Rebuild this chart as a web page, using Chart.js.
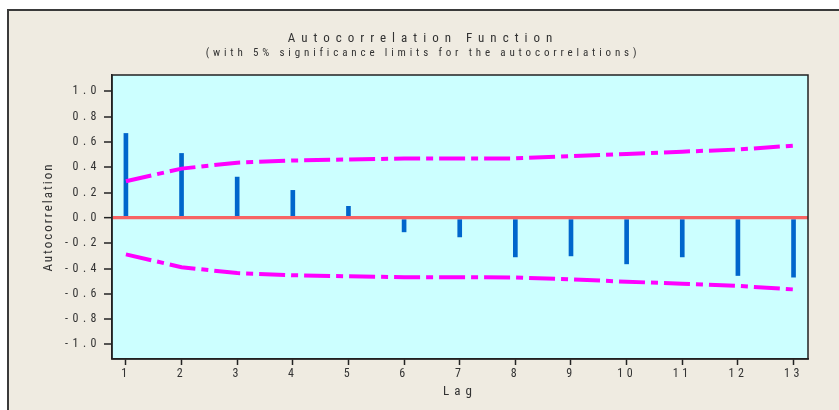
<!DOCTYPE html>
<html><head><meta charset="utf-8">
<script src="https://cdn.jsdelivr.net/npm/chart.js@4"></script>
<style>
html,body{margin:0;padding:0;background:#fff;overflow:hidden;}
#frame{position:absolute;left:7px;top:9px;width:850px;height:420px;box-sizing:border-box;border:2px solid #3a3a3a;background:#efebe1;}
#wrap{position:absolute;left:0;top:0;width:839px;height:410px;}
</style></head><body>
<div id="frame"></div>
<div id="wrap"><canvas id="c" width="839" height="410"></canvas></div>
<script>
const lags = [1, 2, 3, 4, 5, 6, 7, 8, 9, 10, 11, 12, 13];
const acf = [0.668, 0.510, 0.323, 0.218, 0.092, -0.110, -0.150, -0.308, -0.300, -0.363, -0.308, -0.455, -0.468];
const upperLimit = [0.290, 0.390, 0.437, 0.454, 0.462, 0.470, 0.470, 0.471, 0.488, 0.506, 0.524, 0.541, 0.572];
const lowerLimit = [-0.288, -0.389, -0.436, -0.453, -0.461, -0.469, -0.469, -0.470, -0.486, -0.504, -0.520, -0.537, -0.565];
const yTicks = [1.0, 0.8, 0.6, 0.4, 0.2, 0.0, -0.2, -0.4, -0.6, -0.8, -1.0];
const xTicks = [1, 2, 3, 4, 5, 6, 7, 8, 9, 10, 11, 12, 13];
const titleText = 'Autocorrelation Function';
const subtitleText = '(with 5% significance limits for the autocorrelations)';
const xTitleText = 'Lag';
const yTitleText = 'Autocorrelation';

const FONT = "'Liberation Sans Narrow','Roboto Condensed','DejaVu Sans Condensed','Arial Narrow','Liberation Sans',sans-serif";
const TEXT = '#333333';
const AXIS = '#222222';

function spaced(obj, method, px) {
  if (!obj || obj['_sp_' + method]) return;
  const orig = obj[method];
  obj[method] = function (...args) {
    const ctx = this.ctx;
    const prev = ctx.letterSpacing;
    ctx.letterSpacing = px + 'px';
    try { return orig.apply(this, args); }
    finally { ctx.letterSpacing = prev || '0px'; }
  };
  obj['_sp_' + method] = true;
}

const plotStyle = {
  id: 'plotStyle',
  afterLayout(chart) {
    for (const b of chart.boxes) {
      if (b.options && b.options.text === titleText) spaced(b, 'draw', 6);
      if (b.options && b.options.text === subtitleText) spaced(b, 'draw', 3.85);
    }
    spaced(chart.scales.x, 'drawLabels', 3.5);
    spaced(chart.scales.y, 'drawLabels', 4.5);
    spaced(chart.scales.x, 'drawTitle', 5);
    spaced(chart.scales.y, 'drawTitle', 2);
  },
  beforeDraw(chart) {
    const {ctx, chartArea: a} = chart;
    ctx.save();
    ctx.fillStyle = '#ccffff';
    ctx.fillRect(a.left, a.top, a.right - a.left, a.bottom - a.top);
    ctx.restore();
  },
  afterDraw(chart) {
    const {ctx, chartArea: a} = chart;
    ctx.save();
    ctx.strokeStyle = AXIS;
    ctx.lineWidth = 1.5;
    ctx.strokeRect(a.left, a.top, a.right - a.left, a.bottom - a.top);
    ctx.restore();
  }
};

const pts = arr => lags.map((l, i) => ({x: l, y: arr[i]}));

new Chart(document.getElementById('c'), {
  type: 'bar',
  data: {
    datasets: [
      {
        type: 'bar', label: 'ACF', data: pts(acf),
        backgroundColor: '#0066cc', borderWidth: 0, barThickness: 4, order: 2
      },
      {
        type: 'line', label: 'Upper limit', data: pts(upperLimit),
        borderColor: '#ff00ff', borderWidth: 4, borderDash: [26, 6, 7, 6],
        pointRadius: 0, fill: false, tension: 0, order: 1
      },
      {
        type: 'line', label: 'Lower limit', data: pts(lowerLimit),
        borderColor: '#ff00ff', borderWidth: 4, borderDash: [26, 6, 7, 6],
        pointRadius: 0, fill: false, tension: 0, order: 1
      }
    ]
  },
  options: {
    responsive: false,
    animation: false,
    layout: {padding: {left: 38, right: 31, top: 0, bottom: 0}},
    plugins: {
      legend: {display: false},
      tooltip: {enabled: false},
      title: {
        display: true, text: titleText, color: TEXT,
        font: {family: FONT, size: 13, weight: 'normal', lineHeight: 1},
        padding: {top: 32, bottom: 0}
      },
      subtitle: {
        display: true, text: subtitleText, color: TEXT,
        font: {family: FONT, size: 11, weight: 'normal', lineHeight: 1},
        padding: {top: 3, bottom: 16}
      }
    },
    scales: {
      x: {
        type: 'linear', min: 0.75, max: 13.26, offset: false,
        afterFit(s) { s.height = 51; },
        afterBuildTicks(s) { s.ticks = xTicks.map(v => ({value: v})); },
        ticks: {
          autoSkip: false, maxRotation: 0, minRotation: 0, color: TEXT, padding: 2,
          font: {family: FONT, size: 12}, callback: v => String(v)
        },
        grid: {offset: false, drawOnChartArea: false, tickLength: 6, tickColor: AXIS, tickWidth: 1.5},
        border: {display: true, color: AXIS, width: 1.5},
        title: {
          display: true, text: xTitleText, color: TEXT,
          font: {family: FONT, size: 13}, padding: {top: 0, bottom: 10}
        }
      },
      y: {
        type: 'linear', min: -1.115, max: 1.13,
        afterFit(s) { s.width = 74; },
        afterBuildTicks(s) { s.ticks = yTicks.map(v => ({value: v})); },
        ticks: {
          color: TEXT, padding: 3, font: {family: FONT, size: 12},
          callback: v => Number(v).toFixed(1)
        },
        grid: {
          z: 1,
          color: c => (c.tick && c.tick.value === 0) ? '#f76464' : 'rgba(0,0,0,0)',
          lineWidth: c => (c.tick && c.tick.value === 0) ? 3.3 : 0,
          tickLength: 8, tickColor: AXIS, tickWidth: 1.5
        },
        border: {display: true, color: AXIS, width: 1.5, z: 1},
        title: {
          display: true, text: yTitleText, color: TEXT,
          font: {family: FONT, size: 13}, padding: {top: 3, bottom: 0}
        }
      }
    }
  },
  plugins: [plotStyle]
});
</script>
</body></html>
